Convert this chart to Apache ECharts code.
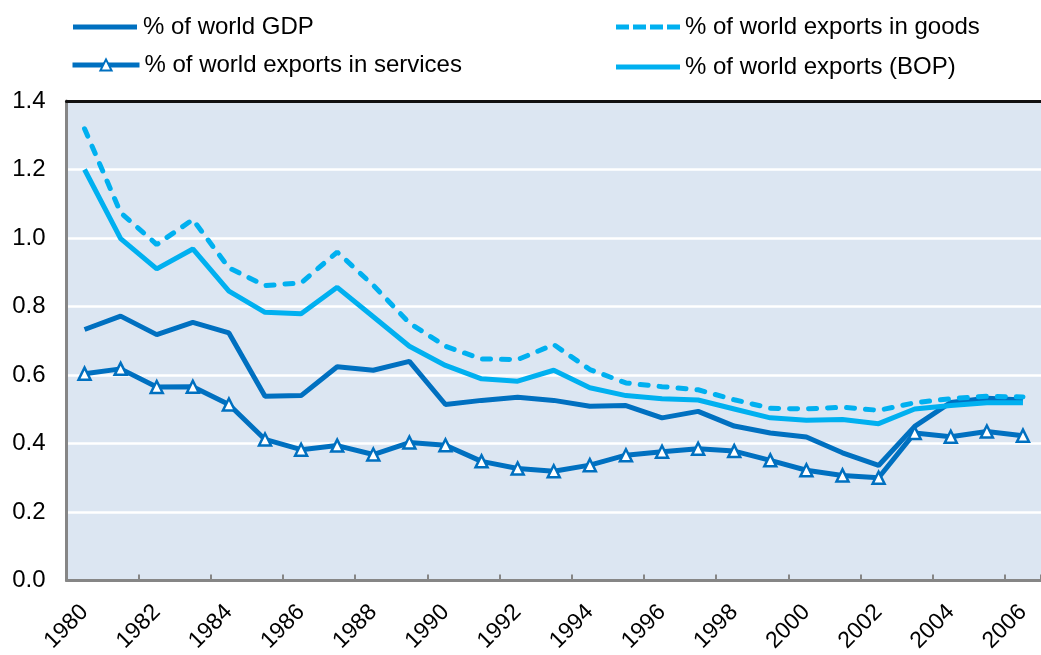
<!DOCTYPE html>
<html>
<head>
<meta charset="utf-8">
<script src="https://cdn.jsdelivr.net/npm/echarts@6/dist/echarts.min.js"></script>
<style>
  html, body { margin: 0; padding: 0; background: #fff; }
  #chart { width: 1041px; height: 655px; }
</style>
</head>
<body>
<div id="chart"></div>
<script>
// years on the x axis
const years = ['1980', '1981', '1982', '1983', '1984', '1985', '1986', '1987', '1988', '1989',
  '1990', '1991', '1992', '1993', '1994', '1995', '1996', '1997', '1998', '1999',
  '2000', '2001', '2002', '2003', '2004', '2005', '2006'];

// values
const gdpShare = [0.733, 0.772, 0.718, 0.754, 0.723, 0.538, 0.540, 0.624, 0.614, 0.640,
  0.514, 0.526, 0.535, 0.526, 0.509, 0.511, 0.475, 0.494, 0.451, 0.431,
  0.419, 0.373, 0.336, 0.450, 0.520, 0.532, 0.527];
const goodsShare = [1.319, 1.074, 0.981, 1.054, 0.913, 0.861, 0.869, 0.959, 0.862, 0.752,
  0.684, 0.647, 0.645, 0.689, 0.616, 0.577, 0.566, 0.557, 0.528, 0.503,
  0.501, 0.506, 0.497, 0.519, 0.531, 0.538, 0.536];
const servicesShare = [0.604, 0.618, 0.565, 0.566, 0.514, 0.412, 0.382, 0.394, 0.368, 0.403,
  0.395, 0.348, 0.327, 0.319, 0.337, 0.366, 0.376, 0.385, 0.378, 0.351,
  0.322, 0.307, 0.300, 0.431, 0.420, 0.435, 0.423];
const bopShare = [1.200, 0.998, 0.910, 0.968, 0.845, 0.783, 0.779, 0.856, 0.770, 0.684,
  0.628, 0.589, 0.582, 0.614, 0.563, 0.540, 0.531, 0.527, 0.501, 0.475,
  0.468, 0.470, 0.458, 0.501, 0.511, 0.519, 0.519];

const yTicks = ['0.0', '0.2', '0.4', '0.6', '0.8', '1.0', '1.2', '1.4'];

const DARK = '#0070c0';
const LIGHT = '#00b0f0';
const FONT = 'Liberation Sans, Arial, sans-serif';

// legend icons: plain bar and four dashes
const solidIcon = 'path://M0,0h64v5h-64z';
const dashIcon = 'path://M0,0h13v5h-13z M17,0h13v5h-13z M34,0h13v5h-13z M51,0h13v5h-13z';

const legendBase = {
  orient: 'horizontal',
  padding: 0,
  itemWidth: 64,
  itemHeight: 5,
  textStyle: { fontSize: 24, color: '#000', fontFamily: FONT }
};

const myChart = echarts.init(document.getElementById('chart'));

const option = {
  animation: false,
  textStyle: { fontFamily: FONT },
  legend: [
    Object.assign({}, legendBase, { data: [{ name: '% of world GDP', icon: solidIcon }], left: 73, top: 15, itemWidth: 66 }),
    Object.assign({}, legendBase, {
      data: ['% of world exports in services'], left: 70, top: 53, itemHeight: 14, itemWidth: 67,
      lineStyle: { width: 5 }
    }),
    Object.assign({}, legendBase, { data: [{ name: '% of world exports in goods', icon: dashIcon }], left: 616, top: 15 }),
    Object.assign({}, legendBase, { data: [{ name: '% of world exports (BOP)', icon: solidIcon }], left: 616, top: 55 })
  ],
  grid: {
    left: 66.5,
    right: -15,
    top: 101,
    bottom: 74,
    show: true,
    backgroundColor: '#dce6f2',
    borderWidth: 0
  },
  xAxis: [{
    type: 'category',
    data: years,
    boundaryGap: true,
    axisLine: { lineStyle: { color: '#868686', width: 3 } },
    axisTick: { show: true, inside: true, length: 6, interval: 1, lineStyle: { color: '#868686', width: 2 } },
    axisLabel: {
      interval: 1,
      rotate: 45,
      margin: 28,
      fontSize: 23,
      color: '#000',
      fontFamily: FONT
    },
    splitLine: { show: false }
  }, {
    // black frame line along the top of the plot
    type: 'category',
    data: years,
    position: 'top',
    axisLine: { lineStyle: { color: '#111', width: 3 } },
    axisTick: { show: false },
    axisLabel: { show: false },
    splitLine: { show: false }
  }],
  yAxis: {
    type: 'value',
    min: 0,
    max: 1.4,
    interval: 0.2,
    axisLine: { show: true, lineStyle: { color: '#868686', width: 3 } },
    axisTick: { show: false },
    axisLabel: {
      margin: 21,
      fontSize: 24,
      color: '#000',
      fontFamily: FONT,
      formatter: (v) => yTicks[Math.round(v / 0.2)]
    },
    splitLine: { show: true, lineStyle: { color: '#ffffff', width: 2.5 } }
  },
  series: [{
    name: '% of world GDP',
    type: 'line',
    data: gdpShare,
    symbol: 'none',
    lineStyle: { color: DARK, width: 5 },
    itemStyle: { color: DARK }
  }, {
    name: '% of world exports in goods',
    type: 'line',
    data: goodsShare,
    symbol: 'none',
    lineStyle: { color: LIGHT, width: 5, type: [8, 11], cap: 'round' },
    itemStyle: { color: LIGHT }
  }, {
    name: '% of world exports in services',
    type: 'line',
    data: servicesShare,
    symbol: 'triangle',
    symbolSize: 12,
    lineStyle: { color: DARK, width: 5 },
    itemStyle: { color: '#ffffff', borderColor: DARK, borderWidth: 2.5 }
  }, {
    name: '% of world exports (BOP)',
    type: 'line',
    data: bopShare,
    symbol: 'none',
    lineStyle: { color: LIGHT, width: 5 },
    itemStyle: { color: LIGHT }
  }]
};

myChart.setOption(option);
</script>
</body>
</html>
